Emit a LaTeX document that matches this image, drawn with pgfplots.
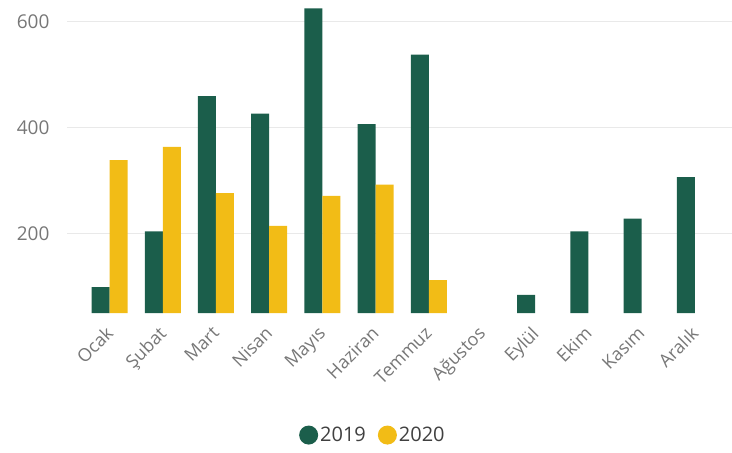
\documentclass[border=0pt]{standalone}
\usepackage{fontspec}
\setmainfont{Open Sans}
\usepackage{pgfplots}
\pgfplotsset{compat=1.18}
\definecolor{g19}{HTML}{1B5E4B}
\definecolor{y20}{HTML}{F2BC16}
\definecolor{txt}{HTML}{777777}
\definecolor{grd}{HTML}{E9E9E9}
\begin{document}
\begin{tikzpicture}
\begin{axis}[
  at={(0,0)}, anchor=south west,
  scale only axis, width=665pt, height=313pt,
  xmin=-0.8, xmax=11.7, ymin=50, ymax=640,
  axis line style={draw=none},
  major tick length=0pt,
  ytick={200,400,600},
  ymajorgrids, grid style={grd, line width=1.2pt},
  xtick={0,...,11},
  xticklabels={Ocak,Şubat,Mart,Nisan,Mayıs,Haziran,Temmuz,Ağustos,Eylül,Ekim,Kasım,Aralık},
  /pgf/number format/assume math mode=true,
  tick label style={font=\fontsize{18}{20}\selectfont, text=txt},
  yticklabel style={anchor=east, xshift=-14pt, font=\fontsize{19}{20}\selectfont},
  xticklabel style={rotate=45, anchor=north east, xshift=-11pt, yshift=-4pt, inner sep=1pt},
  legend style={draw=none, at={(0.46,-0.39)}, anchor=center, legend columns=2,
    font=\fontsize{20}{22}\selectfont, text=black!75,
    /tikz/every even column/.append style={column sep=10pt}},
  legend cell align=left,
]
\addplot[ybar, bar width=18pt, bar shift=-9pt, fill=g19, draw=none,
  legend image code/.code={\fill[g19] (0.25cm,0) circle (9.5pt);}]
  coordinates {(0,99) (1,204) (2,459) (3,426) (4,624) (5,406) (6,537) (8,84) (9,204) (10,228) (11,306)};
\addplot[ybar, bar width=18pt, bar shift=9pt, fill=y20, draw=none,
  legend image code/.code={\fill[y20] (0.25cm,0) circle (9.5pt);}]
  coordinates {(0,338) (1,363) (2,276) (3,214) (4,271) (5,292) (6,112)};
\legend{2019,2020}
\end{axis}
\pgfresetboundingbox
\path[use as bounding box] (-67pt,-140pt) rectangle (665pt,313pt);
\end{tikzpicture}
\end{document}
